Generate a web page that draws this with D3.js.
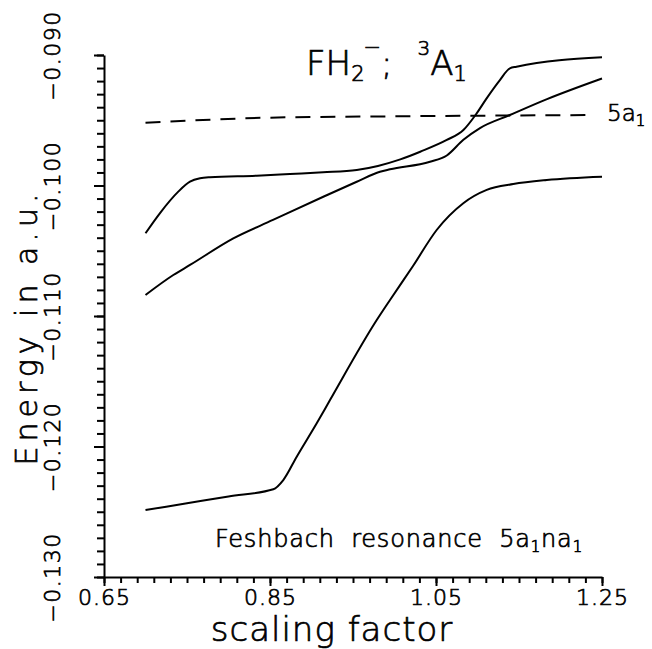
<!DOCTYPE html>
<html>
<head>
<meta charset="utf-8">
<script src="https://cdn.jsdelivr.net/npm/d3@7"></script>
<style>
  body { margin: 0; background: white; }
  svg { display: block; }
  text { font-weight: 200; fill: black; stroke: black; stroke-width: 0.7px; }
</style>
</head>
<body>
<div id="chart"></div>
<script>
// Chart data
const xTicks = [0.65, 0.85, 1.05, 1.25];
const yTicks = [-0.130, -0.120, -0.110, -0.100, -0.090];

const upperX = [0.700, 0.7175, 0.7395, 0.7536, 0.7657, 0.7777, 0.834, 0.874, 0.914, 0.9545, 0.980, 1.007, 1.031, 1.063, 1.083, 1.099, 1.111, 1.127, 1.139, 1.147, 1.25];
const upperY = [-0.10366, -0.10211, -0.10047, -0.09971, -0.09945, -0.09937, -0.09925, -0.09912, -0.09899, -0.09881, -0.09850, -0.09800, -0.09741, -0.09651, -0.09575, -0.09447, -0.09332, -0.09192, -0.09102, -0.09090, -0.09018];

const middleX = [0.700, 0.7335, 0.7536, 0.8058, 0.8536, 0.9142, 0.9545, 0.9825, 0.9946, 1.0428, 1.063, 1.083, 1.103, 1.139, 1.183, 1.25];
const middleY = [-0.10839, -0.10686, -0.10609, -0.10405, -0.10264, -0.10086, -0.09971, -0.09894, -0.09876, -0.09818, -0.09770, -0.09650, -0.09560, -0.09460, -0.09340, -0.09180];

const lowerX = [0.700, 0.750, 0.800, 0.854, 0.866, 0.8822, 0.9063, 0.9223, 0.9786, 0.9946, 1.0223, 1.0508, 1.0829, 1.1111, 1.1431, 1.1834, 1.25];
const lowerY = [-0.12487, -0.12435, -0.12383, -0.12328, -0.12257, -0.12078, -0.11822, -0.11644, -0.11031, -0.10877, -0.10617, -0.10341, -0.10136, -0.10034, -0.09989, -0.09958, -0.09933];

const dashX = [0.70, 0.85, 1.00, 1.24];
const dashY = [-0.0952, -0.0948, -0.0947, -0.0946];

const width = 652,
      height = 649;
const font = "'DejaVu Sans', sans-serif";

const svg = d3.select('#chart').append('svg')
    .attr('width', width)
    .attr('height', height)
    .style('background', 'white');

// Scales
const xScale = d3.scaleLinear().domain([0.65, 1.25]).range([104, 602]);
const yScale = d3.scaleLinear().domain([-0.130, -0.090]).range([577, 55]);

const xMinor = d3.range(0, 31).map(i => 0.65 + i * 0.02);
const yMinor = d3.range(0, 41).map(i => -0.130 + i * 0.001);

// x axis: minor ticks, then major ticks with labels
svg.append('g')
    .attr('transform', `translate(0, ${yScale(-0.130)})`)
    .call(d3.axisBottom(xScale).tickValues(xMinor).tickSize(6).tickFormat(''))
    .call(g => g.select('.domain').remove());

svg.append('g')
    .attr('transform', `translate(0, ${yScale(-0.130)})`)
    .call(d3.axisBottom(xScale).tickValues(xTicks).tickSize(9).tickSizeOuter(0)
        .tickFormat(d3.format('.2f')))
    .call(g => g.selectAll('text')
        .attr('font-family', font)
        .attr('font-size', 22)
        .attr('letter-spacing', 1)
        .attr('y', 28)
        .attr('dy', 0));

// y axis: minor ticks, then major ticks with rotated labels
svg.append('g')
    .attr('transform', `translate(${xScale(0.65)}, 0)`)
    .call(d3.axisLeft(yScale).tickValues(yMinor).tickSize(7).tickFormat(''))
    .call(g => g.select('.domain').remove());

svg.append('g')
    .attr('transform', `translate(${xScale(0.65)}, 0)`)
    .call(d3.axisLeft(yScale).tickValues(yTicks).tickSize(10).tickSizeOuter(0)
        .tickFormat(d3.format('.3f')))
    .call(g => g.selectAll('text')
        .attr('font-family', font)
        .attr('font-size', 22)
        .attr('letter-spacing', 1.5)
        .attr('text-anchor', 'middle')
        .attr('x', 0)
        .attr('dy', 0)
        .attr('transform', 'translate(-44, 0) rotate(-90)'));

svg.selectAll('.domain, .tick line')
    .attr('stroke', 'black')
    .attr('stroke-width', 2);

// Curves
const line = d3.line()
    .x(d => xScale(d[0]))
    .y(d => yScale(d[1]))
    .curve(d3.curveMonotoneX);

const series = [
    { xs: upperX, ys: upperY, dash: null },
    { xs: middleX, ys: middleY, dash: null },
    { xs: lowerX, ys: lowerY, dash: null },
    { xs: dashX, ys: dashY, dash: '15,10' }
];

svg.append('g')
    .selectAll('path')
    .data(series)
    .enter().append('path')
        .attr('d', s => line(s.xs.map((x, i) => [x, s.ys[i]])))
        .attr('fill', 'none')
        .attr('stroke', 'black')
        .attr('stroke-width', 2)
        .attr('stroke-dasharray', s => s.dash);

// Axis titles
svg.append('text')
    .attr('x', 332)
    .attr('y', 641)
    .attr('text-anchor', 'middle')
    .attr('font-family', font)
    .attr('font-size', 34)
    .attr('letter-spacing', 1)
    .text('scaling factor');

svg.append('text')
    .attr('transform', 'translate(37, 327) rotate(-90)')
    .attr('text-anchor', 'middle')
    .attr('font-family', font)
    .attr('font-size', 30)
    .attr('letter-spacing', 5)
    .text('Energy in a.u.');

// Title: FH2-; 3A1
const title = svg.append('text')
    .attr('x', 306)
    .attr('y', 75)
    .attr('font-family', font)
    .attr('font-size', 34);
title.append('tspan').text('FH');
title.append('tspan').attr('font-size', 21).attr('dy', 6).text('2');
title.append('tspan').attr('font-size', 21).attr('dy', -27).attr('dx', -1).text('\u2212');
title.append('tspan').attr('dy', 21).text(';');
title.append('tspan').attr('font-size', 20).attr('dx', 25).attr('dy', -20).text('3');
title.append('tspan').attr('dy', 20).text('A');
title.append('tspan').attr('font-size', 21).attr('dy', 6).text('1');

// 5a1 label at the dashed line end
const lab = svg.append('text')
    .attr('x', 607)
    .attr('y', 121)
    .attr('font-family', font)
    .attr('font-size', 23);
lab.append('tspan').text('5a');
lab.append('tspan').attr('font-size', 15).attr('dy', 5).text('1');

// Feshbach resonance label
const fesh = svg.append('text')
    .attr('x', 215)
    .attr('y', 547)
    .attr('font-family', font)
    .attr('font-size', 24)
    .attr('letter-spacing', 0.8)
    .attr('word-spacing', 8);
fesh.append('tspan').text('Feshbach resonance 5a');
fesh.append('tspan').attr('font-size', 15).attr('dy', 5).text('1');
fesh.append('tspan').attr('dy', -5).text('na');
fesh.append('tspan').attr('font-size', 15).attr('dy', 5).text('1');
</script>
</body>
</html>
